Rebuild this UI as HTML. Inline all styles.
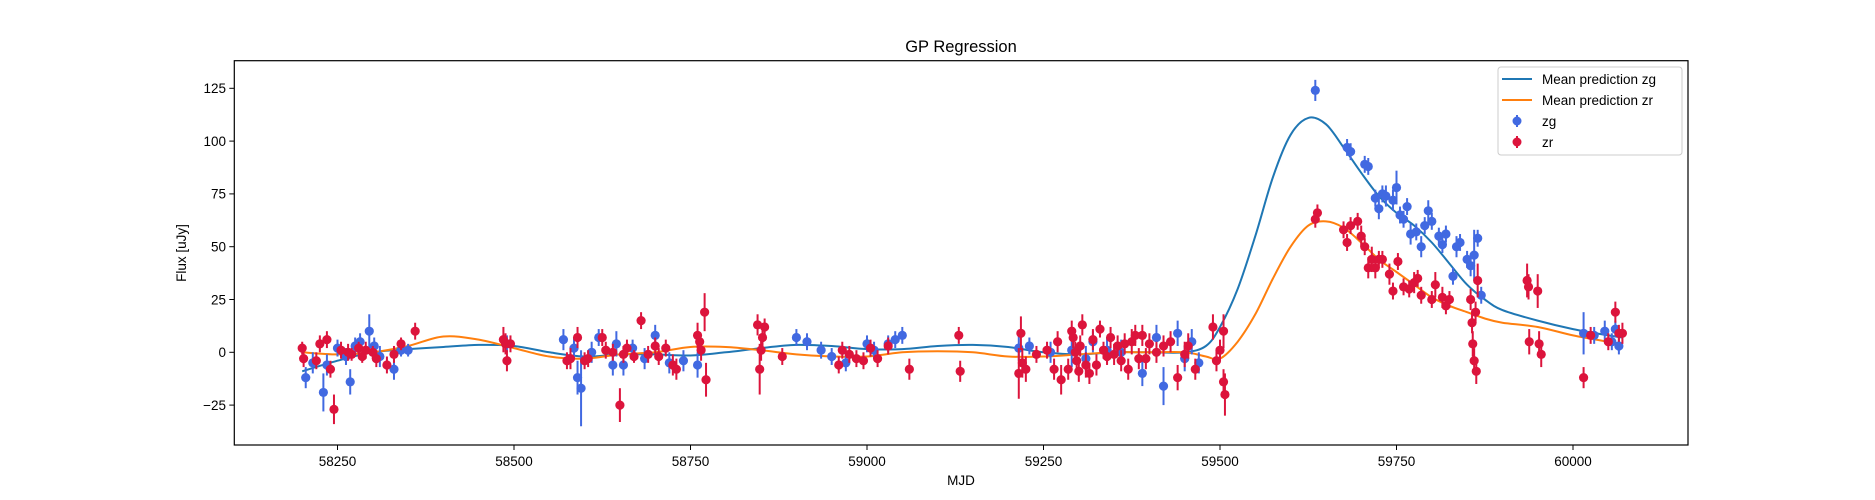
<!DOCTYPE html>
<html><head><meta charset="utf-8"><style>
html,body{margin:0;padding:0;background:#fff;}
svg{display:block;font-family:"Liberation Sans","DejaVu Sans",sans-serif;}
</style></head><body>
<svg id="chart" width="1875" height="500" xmlns="http://www.w3.org/2000/svg">
<rect width="1875" height="500" fill="#fff"/>
<text x="961" y="52" font-size="16.5" text-anchor="middle">GP Regression</text>
<text x="961" y="485" font-size="13.5" text-anchor="middle">MJD</text>
<text x="0" y="0" font-size="13.5" text-anchor="middle" transform="translate(186,253) rotate(-90)">Flux [uJy]</text>
<g id="ticks"></g>
<g id="plot"></g>
<rect x="234.3" y="60.7" width="1453.7" height="384.3" fill="none" stroke="#000" stroke-width="1.2"/>
<g>
<rect x="1498" y="67" width="184" height="88" rx="3" fill="#fff" fill-opacity="0.8" stroke="#ccc"/>
<line x1="1502" y1="79" x2="1532" y2="79" stroke="#1f77b4" stroke-width="2"/>
<text x="1542" y="84" font-size="13.5">Mean prediction zg</text>
<line x1="1502" y1="100" x2="1532" y2="100" stroke="#ff7f0e" stroke-width="2"/>
<text x="1542" y="105" font-size="13.5">Mean prediction zr</text>
<line x1="1517" y1="115" x2="1517" y2="127" stroke="#4169e1" stroke-width="2"/>
<circle cx="1517" cy="121" r="4.5" fill="#4169e1"/>
<text x="1542" y="126" font-size="13.5">zg</text>
<line x1="1517" y1="136" x2="1517" y2="148" stroke="#dc143c" stroke-width="2"/>
<circle cx="1517" cy="142" r="4.5" fill="#dc143c"/>
<text x="1542" y="147" font-size="13.5">zr</text>
</g>
</svg>
<script>
const xTicks=[58250,58500,58750,59000,59250,59500,59750,60000];
const yTicks=[-25,0,25,50,75,100,125];
const curveMjd=[58200,58250,58300,58350,58400,58450,58500,58550,58600,58650,58700,58750,58800,58850,58900,58950,59000,59050,59100,59150,59200,59250,59300,59350,59400,59450,59480,59500,59525,59550,59575,59600,59625,59650,59675,59700,59725,59750,59775,59800,59825,59850,59875,59900,59950,60000,60050,60070];
const meanZg=[-9,-4,0,1.5,2.5,3.5,3,0,-2,-1,-1,-1.5,0,2,3.5,3,1.5,1.5,3,3.5,2.5,0,-1,0,0,0,3,12,30,55,83,103,111,108,97,85,74,66,60,52,42,32,25,20,15,11,8,7];
const meanZr=[0,-1,0,3,7.5,6,2,-2,-3,-1,0,2.5,2.5,1,-1,-2,-2,0,0.5,0,-2,-2,-1,0,0,0,-2,-3,5,18,35,50,60,62,59,52,44,38,32,26,22,19,16,14,12,8,5,4];
const zgPts=[[58205,-12,5],[58215,-5,5],[58230,-19,9],[58235,-6,5],[58250,2,4],[58262,-2,4],[58268,-14,6],[58275,3,4],[58282,5,4],[58295,10,8],[58302,3,4],[58310,-2,5],[58330,-8,5],[58340,1,3],[58350,1,3],[58490,4,4],[58570,6,5],[58585,2,5],[58590,-12,8],[58595,-17,18],[58610,0,5],[58620,7,4],[58640,-6,5],[58645,4,6],[58655,-6,5],[58668,2,4],[58685,-3,5],[58700,8,5],[58720,-5,5],[58740,-4,5],[58760,-6,6],[58900,7,4],[58915,5,4],[58935,1,4],[58950,-2,4],[58970,-5,4],[59000,4,4],[59010,1,4],[59030,4,4],[59040,6,4],[59050,8,4],[59215,2,6],[59230,3,4],[59260,0,5],[59290,1,8],[59310,-3,6],[59320,5,5],[59340,1,6],[59360,0,6],[59390,-10,6],[59410,7,6],[59420,-16,9],[59440,9,6],[59450,-3,6],[59460,5,6],[59470,-5,5],[59635,124,5],[59680,97,4],[59685,95,4],[59705,89,4],[59710,88,4],[59720,73,4],[59725,68,5],[59730,75,4],[59735,74,5],[59745,72,5],[59750,78,8],[59755,65,4],[59760,63,4],[59765,69,4],[59770,56,5],[59778,57,4],[59785,50,5],[59790,60,4],[59795,67,5],[59800,62,4],[59810,55,4],[59815,51,4],[59820,56,4],[59830,36,4],[59835,50,5],[59840,52,4],[59850,44,4],[59855,41,5],[59860,46,12],[59865,54,4],[59870,27,4],[60015,9,10],[60030,8,4],[60045,10,5],[60055,5,4],[60060,11,4],[60065,3,4]];
const zrPts=[[58200,2,3],[58202,-3,4],[58220,-4,4],[58225,4,4],[58235,6,4],[58245,-27,7],[58240,-8,4],[58255,1,4],[58265,0,4],[58270,-1,3],[58280,2,3],[58285,-2,3],[58290,1,4],[58300,0,3],[58305,-3,4],[58320,-6,4],[58330,-1,4],[58340,4,3],[58360,10,4],[58485,6,6],[58488,4,5],[58490,-4,5],[58495,4,4],[58575,-4,4],[58580,-3,5],[58590,7,5],[58600,-4,4],[58605,-3,4],[58625,7,4],[58630,1,4],[58640,0,4],[58650,-25,8],[58655,-1,4],[58660,2,4],[58670,-2,3],[58680,15,4],[58690,-1,4],[58700,3,4],[58705,-2,4],[58715,2,4],[58725,-6,5],[58730,-8,5],[58760,8,6],[58763,5,4],[58765,1,5],[58770,19,9],[58772,-13,8],[58845,13,5],[58848,-8,12],[58850,1,5],[58852,7,6],[58855,12,4],[58880,-2,4],[58960,-6,4],[58965,1,4],[58975,-1,4],[58985,-3,4],[58995,-4,4],[59005,2,4],[59015,-3,4],[59030,3,4],[59060,-8,5],[59130,8,4],[59132,-9,5],[59215,-10,12],[59218,9,8],[59220,-5,7],[59225,-8,6],[59240,-1,4],[59255,1,4],[59265,-8,5],[59270,5,5],[59275,-13,7],[59285,-8,5],[59290,10,5],[59292,7,5],[59295,0,5],[59297,-4,5],[59300,-9,5],[59302,3,5],[59305,13,5],[59310,-6,6],[59315,-10,5],[59320,6,5],[59325,-6,5],[59330,11,4],[59335,1,4],[59340,-2,4],[59345,7,5],[59350,-1,5],[59355,3,5],[59360,-4,5],[59365,4,5],[59370,-8,5],[59375,5,6],[59380,8,5],[59385,-3,5],[59390,8,5],[59395,-3,5],[59400,4,5],[59410,0,5],[59420,3,5],[59430,5,5],[59440,-12,6],[59450,-1,6],[59455,3,6],[59465,-8,5],[59490,12,6],[59495,-4,5],[59500,1,5],[59505,10,8],[59507,-20,10],[59505,-14,6],[59635,63,4],[59638,66,4],[59675,58,4],[59680,52,4],[59685,60,4],[59695,62,4],[59700,55,5],[59705,50,4],[59710,40,5],[59715,44,6],[59720,40,5],[59725,44,4],[59730,44,4],[59740,37,5],[59745,29,4],[59752,43,4],[59760,31,4],[59768,30,4],[59775,33,5],[59780,35,4],[59785,27,4],[59800,25,4],[59805,32,6],[59815,26,5],[59820,22,4],[59825,25,4],[59855,25,5],[59857,14,5],[59858,4,6],[59860,-4,6],[59862,19,5],[59865,34,8],[59863,-9,6],[59935,34,8],[59937,31,6],[59938,5,6],[59950,29,8],[59952,4,6],[59955,-1,6],[60015,-12,5],[60025,8,4],[60050,5,4],[60060,19,5],[60065,9,4],[60070,9,5]];

const NS='http://www.w3.org/2000/svg';
function xs(v){return 867+(v-59000)*0.706;}
function ys(v){return 352.3-v*2.112;}
function mk(tag,attrs,parent){const e=document.createElementNS(NS,tag);for(const k in attrs)e.setAttribute(k,attrs[k]);parent.appendChild(e);return e;}
const ticks=document.getElementById('ticks');
const plot=document.getElementById('plot');
xTicks.forEach(t=>{
  const l=mk('line',{x1:xs(t),x2:xs(t),y1:445,y2:450,stroke:'#000','stroke-width':1},ticks);
  
  
  const tx=mk('text',{x:xs(t),y:466,'font-size':13.5,'text-anchor':'middle'},ticks);
  tx.textContent=t;
  
  
});
yTicks.forEach(t=>{
  const l=mk('line',{x1:229.3,x2:234.3,y1:ys(t),y2:ys(t),stroke:'#000','stroke-width':1},ticks);
  
  
  const tx=mk('text',{x:226,y:ys(t)+4.8,'font-size':13.5,'text-anchor':'end'},ticks);
  tx.textContent=t<0?'\u2212'+Math.abs(t):t;
  
  
});
function curve(vals,color,name){
  const P=curveMjd.map((m,i)=>[xs(m),ys(vals[i])]);
  let d='M'+P[0][0].toFixed(1)+','+P[0][1].toFixed(1);
  for(let i=0;i<P.length-1;i++){
    const p0=P[Math.max(i-1,0)],p1=P[i],p2=P[i+1],p3=P[Math.min(i+2,P.length-1)];
    const c1=[p1[0]+(p2[0]-p0[0])/6,p1[1]+(p2[1]-p0[1])/6];
    const c2=[p2[0]-(p3[0]-p1[0])/6,p2[1]-(p3[1]-p1[1])/6];
    d+=' C'+c1[0].toFixed(1)+','+c1[1].toFixed(1)+' '+c2[0].toFixed(1)+','+c2[1].toFixed(1)+' '+p2[0].toFixed(1)+','+p2[1].toFixed(1);
  }
  const p=mk('path',{d:d,fill:'none',stroke:color,'stroke-width':2,'stroke-linejoin':'round'},plot);
  
  
}
function points(arr,color,name){
  const g=mk('g',{},plot);
  
  
  arr.forEach(p=>{
    const l=mk('line',{x1:xs(p[0]),x2:xs(p[0]),y1:ys(p[1]-p[2]),y2:ys(p[1]+p[2]),stroke:color,'stroke-width':2},g);
    
    
    const c=mk('circle',{cx:xs(p[0]),cy:ys(p[1]),r:4.6,fill:color},g);
    
    
  });
}
curve(meanZg,'#1f77b4','mean-prediction-zg');
curve(meanZr,'#ff7f0e','mean-prediction-zr');
points(zgPts,'#4169e1','zg-points');
points(zrPts,'#dc143c','zr-points');
</script>
</body></html>
